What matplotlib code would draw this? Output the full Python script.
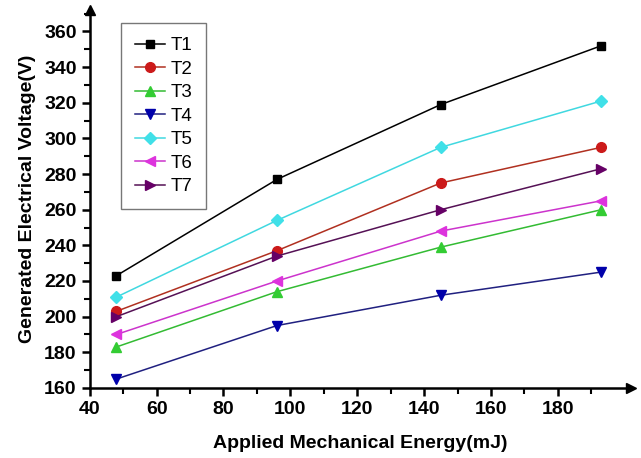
import matplotlib.pyplot as plt

plt.rcParams['font.family'] = ['Liberation Sans', 'DejaVu Sans']
plt.rcParams['font.weight'] = 'bold'

# Dataset
energy = [48, 96, 145, 193]
labels = ["T1", "T2", "T3", "T4", "T5", "T6", "T7"]
t1 = [223, 277, 319, 352]
t2 = [203, 237, 275, 295]
t3 = [183, 214, 239, 260]
t4 = [165, 195, 212, 225]
t5 = [211, 254, 295, 321]
t6 = [190, 220, 248, 265]
t7 = [200, 234, 260, 283]

series = [t1, t2, t3, t4, t5, t6, t7]
line_colors = ["black", "#b03020", "#33bb33", "#202080", "#40d8e0", "#cc33cc", "#551155"]
mark_colors = ["black", "#cc1a1a", "#33cc33", "#0000aa", "#40e0e8", "#dd33dd", "#660066"]
markers = ["s", "o", "^", "v", "D", "<", ">"]
msizes = [6, 7, 7, 7, 6, 7, 7]

fig = plt.figure(figsize=(6.41, 4.58), dpi=100)
ax = fig.add_axes([0.140, 0.153, 0.845, 0.825])

for y, lab, lc, mc, m, ms in zip(series, labels, line_colors, mark_colors, markers, msizes):
    ax.plot(energy, y, color=lc, lw=1.1, marker=m, markersize=ms,
            markerfacecolor=mc, markeredgecolor=mc, label=lab)

ax.set_xlim(40, 202)
ax.set_ylim(160, 372)
ax.set_xticks(range(40, 181, 20))
ax.set_xticks(range(50, 200, 20), minor=True)
ax.set_yticks(range(160, 361, 20))
ax.set_yticks(range(170, 371, 20), minor=True)

for s in ["top", "right"]:
    ax.spines[s].set_visible(False)
for s in ["left", "bottom"]:
    ax.spines[s].set_linewidth(1.8)

ax.tick_params(which="major", direction="out", length=6, width=1.8, labelsize=14)
ax.tick_params(which="minor", direction="out", length=4, width=1.5)

# axis arrows
ax.plot(1, 0, ">k", markersize=7, transform=ax.transAxes, clip_on=False)
ax.plot(0, 1, "^k", markersize=7, transform=ax.transAxes, clip_on=False)

ax.set_xlabel("Applied Mechanical Energy(mJ)", fontsize=14, fontweight="bold", labelpad=12)
ax.set_ylabel("Generated Electrical Voltage(V)", fontsize=14, fontweight="bold", labelpad=6)

leg = ax.legend(loc="upper left", bbox_to_anchor=(0.057, 0.966), borderaxespad=0,
                fontsize=13.5, frameon=True, fancybox=False, edgecolor="#555555",
                handlelength=1.6, handletextpad=0.3, labelspacing=0.34, borderpad=0.75)
leg.get_frame().set_linewidth(1.0)
for t in leg.get_texts():
    t.set_fontweight("normal")

plt.savefig("out.png")
